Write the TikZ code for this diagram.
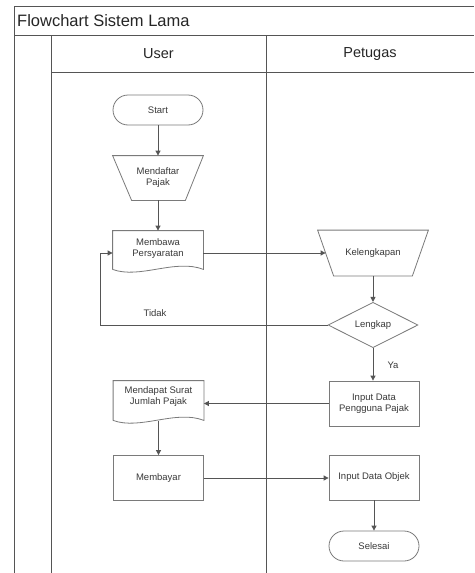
\documentclass[tikz,border=0pt]{standalone}
\usepackage{fontspec}
\setmainfont{Liberation Sans}
\usetikzlibrary{shapes.geometric,arrows.meta,calc}
\definecolor{framec}{HTML}{555555}
\definecolor{shapec}{HTML}{7A7A7A}
\definecolor{txtc}{HTML}{3A3A3A}
\begin{document}
\begin{tikzpicture}[x=1pt,y=-1pt,
  frameline/.style={draw=framec,line width=1pt},
  base/.style={draw=shapec,line width=0.8pt,text=txtc,font=\fontsize{9.5}{11}\selectfont,align=center,inner sep=0pt},
  procbox/.style={base,rectangle,minimum width=90pt,minimum height=45pt},
  termbox/.style={base,rectangle,rounded corners=15pt,minimum width=90pt,minimum height=30pt},
  hollowbox/.style={base,draw=none,rectangle},
  decbox/.style={base,diamond,minimum width=90pt,minimum height=44pt},
  outline/.style={draw=shapec,line width=0.8pt},
  arr/.style={draw=framec,line width=0.8pt,-{Triangle[length=5pt,width=5pt]}},
  lbl/.style={text=txtc,font=\fontsize{9.5}{11}\selectfont,inner sep=0pt}
]
\useasboundingbox (0,0) rectangle (474,573);
\fill[white] (0,0) rectangle (474,573);
% frame
\draw[frameline] (14,573) -- (14,6) -- (474,6);
\draw[frameline] (14,35) -- (474,35);
\draw[frameline] (51,72) -- (474,72);
\draw[frameline] (51,35) -- (51,573);
\draw[frameline] (266,35) -- (266,573);
\node[anchor=west,text=black!85,font=\fontsize{16.5}{18}\selectfont,inner sep=0pt] (title) at (17,21) {Flowchart Sistem Lama};
\node[text=black!85,font=\fontsize{14.5}{16}\selectfont,inner sep=0pt] (huser) at (158.5,54) {User};
\node[text=black!85,font=\fontsize{14.5}{16}\selectfont,inner sep=0pt] (hpet) at (370,54) {Petugas};
% nodes
\node[termbox] (start) at (158,110) {Start};
\node[hollowbox,minimum width=90pt,minimum height=44pt] (daftar) at (158,178) {Mendaftar\\Pajak};
\draw[outline] (daftar.north west) -- (daftar.north east) -- ([xshift=-18pt]daftar.south east) -- ([xshift=19pt]daftar.south west) -- cycle;
\node[hollowbox,minimum width=90pt,minimum height=38pt] (mem) at (158,250) {};
\node[lbl,align=center] (memt) at (158,248.5) {Membawa\\Persyaratan};
\draw[outline] (mem.south west) -- (mem.north west) -- (mem.north east) -- (mem.south east) .. controls +(-28,-11) and +(27,10) .. (mem.south west);
\node[hollowbox,minimum width=110pt,minimum height=45pt] (kel) at (373,253) {Kelengkapan};
\draw[outline] (kel.north west) -- (kel.north east) -- ([xshift=-16pt]kel.south east) -- ([xshift=16pt]kel.south west) -- cycle;
\coordinate (kelin) at ([xshift=8pt]kel.west);
\node[decbox] (lk) at (373,325) {Lengkap};
\node[procbox] (ipp) at (374,403.5) {Input Data\\Pengguna Pajak};
\node[hollowbox,minimum width=90pt,minimum height=39pt] (msr) at (158.5,400.5) {};
\node[lbl,align=center] (msrt) at (158.5,397) {Mendapat Surat\\Jumlah Pajak};
\draw[outline] (msr.south west) -- (msr.north west) -- (msr.north east) -- (msr.south east) .. controls +(-28,-11) and +(27,10) .. (msr.south west);
\node[procbox] (mby) at (158.5,478) {Membayar};
\node[procbox] (ido) at (374,477.5) {Input Data Objek};
\node[termbox] (sel) at (374,546) {Selesai};
% connectors
\draw[arr] (start) -- (daftar.north);
\draw[arr] (daftar.south) -- (mem.north);
\draw[arr] ([yshift=-3pt]mem.east) -- (kelin);
\draw[arr] (kel.south -| lk.north) -- (lk.north);
\coordinate (loopc) at (100,325);
\draw[arr] (lk.west) -- (loopc) |- ([yshift=-3pt]mem.west);
\node[lbl] (tidak) at (155,313) {Tidak};
\draw[arr] (lk.south) -- (lk.south |- ipp.north);
\node[lbl] (ya) at (393,365) {Ya};
\draw[arr] (ipp.west) -- (ipp.west -| msr.east);
\draw[arr] ([yshift=-1pt]msr.south) -- (mby);
\draw[arr] (mby.east) -- (mby.east -| ido.west);
\draw[arr] (ido) -- (sel);
\end{tikzpicture}
\end{document}
